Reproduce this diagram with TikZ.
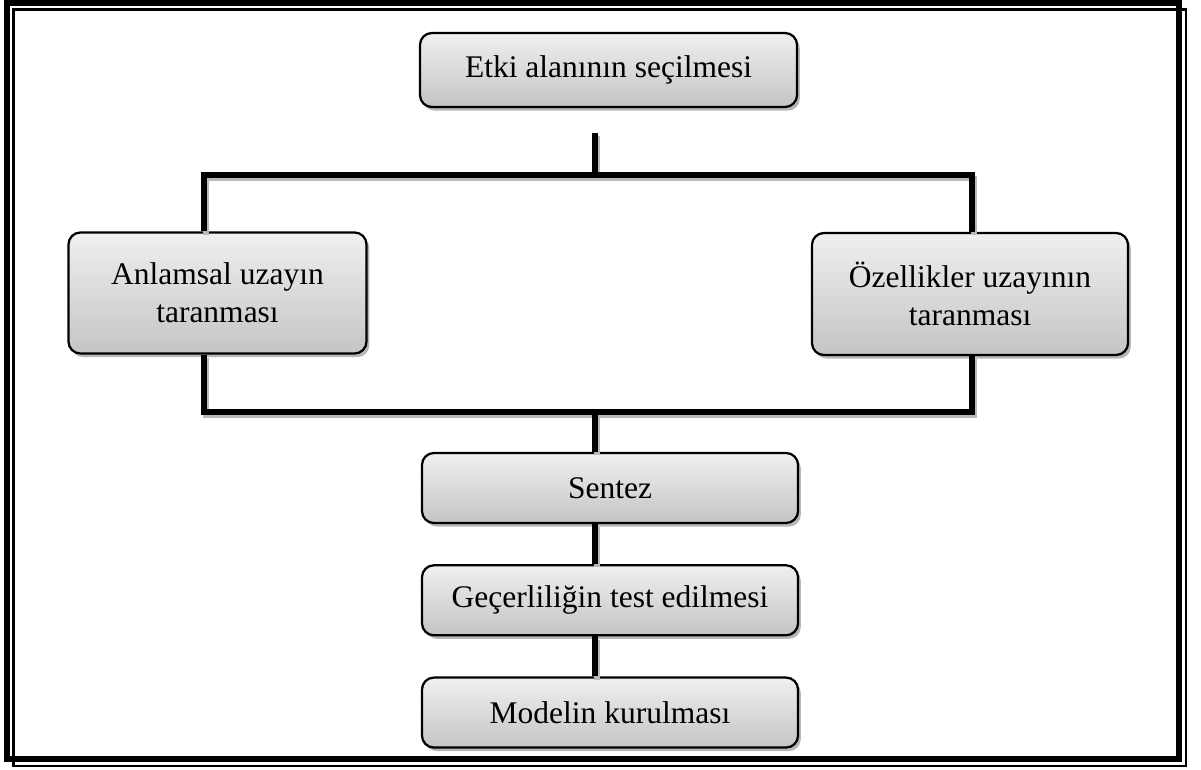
\documentclass[tikz,border=0pt]{standalone}
\usepackage{fontspec}
\setmainfont{Liberation Serif}
\usepackage{tikz}
\usetikzlibrary{positioning,shadows}

\begin{document}
\begin{tikzpicture}[x=0.025cm, y=-0.025cm, node distance=1cm,
  every node/.style={font=\fontsize{22.4}{27}\selectfont},
  stage/.style={draw, line width=1.6pt, rounded corners=0.3cm, align=center,
    top color=gray!12, bottom color=gray!46,
    drop shadow={shadow xshift=0.07cm, shadow yshift=-0.09cm, fill=gray!80, opacity=0.7}},
  bar/.style={line width=3.6pt, line join=miter,
    preaction={draw=gray!55, line width=3.6pt, transform canvas={xshift=0.05cm, yshift=-0.08cm}}}]
  \useasboundingbox (0,0) rectangle (1201,769);
  % double frame
  \draw[line width=4.3pt] (7,3) rectangle (1179,759);
  \draw[line width=1.8pt] (13.5,9.5) rectangle (1186,766);

  \node[stage, minimum width=9.425cm, minimum height=1.85cm] (etki) at (608.5,70) {Etki alanının seçilmesi};
  \node[stage, minimum width=7.45cm, minimum height=3.025cm] (anlam) at (217.5,293) {Anlamsal uzayın\\taranması};
  \node[stage, minimum width=7.9cm, minimum height=3.05cm] (ozel) at (970,294) {Özellikler uzayının\\taranması};
  \node[stage, minimum width=9.4cm, minimum height=1.75cm] (sentez) at (610,488) {Sentez};
  \node[stage, minimum width=9.4cm, minimum height=1.75cm, below=of sentez] (gecer) {Geçerliliğin test edilmesi};
  \node[stage, minimum width=9.4cm, minimum height=1.75cm, below=of gecer] (model) {Modelin kurulması};

  \coordinate (stem) at (595,133);
  \coordinate (tl) at (204,175);
  \coordinate (tr) at (972,175);
  \coordinate (bl) at (204,412);
  \coordinate (br) at (972,412);
  \coordinate (bm) at (595,412);

  \draw[bar] (stem) -- (stem |- tl);
  \draw[bar] (anlam.north -| tl) -- (tl) -- (tr) -- (ozel.north -| tr);
  \draw[bar] (anlam.south -| bl) -- (bl) -- (br) -- (ozel.south -| br);
  \draw[bar] (bm) -- (sentez.north -| bm);
  \draw[bar] (sentez.south -| bm) -- (gecer.north -| bm);
  \draw[bar] (gecer.south -| bm) -- (model.north -| bm);
\end{tikzpicture}
\end{document}
